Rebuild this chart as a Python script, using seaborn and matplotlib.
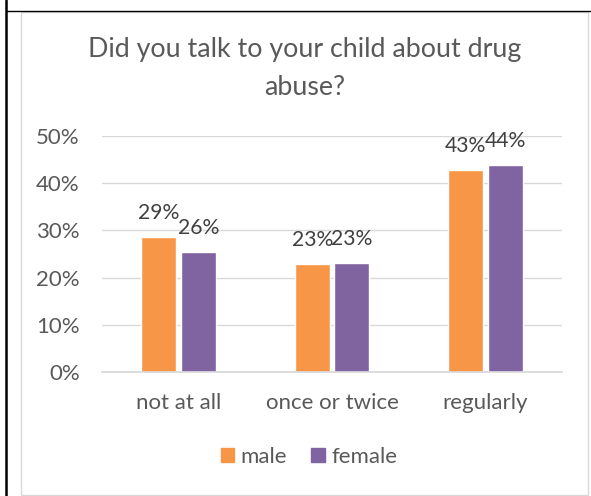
import seaborn as sns
import matplotlib.pyplot as plt
import pandas as pd
from matplotlib.lines import Line2D
from matplotlib.patches import Rectangle
from matplotlib.ticker import PercentFormatter

# chart data
responses = ['not at all', 'once or twice', 'regularly']
male = [0.285, 0.228, 0.428]
female = [0.255, 0.230, 0.439]
male_labels = ['29%', '23%', '43%']
female_labels = ['26%', '23%', '44%']

df = pd.DataFrame({
    'response': responses * 2,
    'value': male + female,
    'gender': ['male'] * 3 + ['female'] * 3,
})

sns.set_theme(style='white')
plt.rcParams['font.family'] = ['Lato', 'DejaVu Sans']

fs = 16
fig = plt.figure(figsize=(5.91, 4.96), dpi=100)
W, H = 591, 496

# outer frame lines (page border + chart border)
fig.add_artist(Line2D([6.3 / W, 6.3 / W], [0, 1], color='black', lw=1.8, transform=fig.transFigure))
fig.add_artist(Line2D([6.3 / W, 1], [1 - 10.7 / H, 1 - 10.7 / H], color='black', lw=1.0, transform=fig.transFigure))
fig.add_artist(Rectangle((20.5 / W, 1 - 494.5 / H), (587.5 - 20.5) / W, (494.5 - 12) / H,
                         fill=False, edgecolor='#D9D9D9', lw=1.0, transform=fig.transFigure))

ax = fig.add_axes([102 / W, 1 - 372 / H, 460 / W, 236 / H])

sns.barplot(data=df, x='response', y='value', hue='gender',
            palette={'male': '#F79646', 'female': '#8064A2'}, saturation=1,
            width=0.515, gap=0.114, ax=ax, legend=False)

ax.set_ylim(0, 0.5)
ax.set_xlim(-0.5, 2.5)
ax.set_yticks([0, 0.1, 0.2, 0.3, 0.4, 0.5])
ax.yaxis.set_major_formatter(PercentFormatter(1.0, decimals=0))
ax.grid(axis='y', color='#D9D9D9', lw=1.0)
ax.set_axisbelow(True)
for s in ['left', 'right', 'top']:
    ax.spines[s].set_visible(False)
ax.spines['bottom'].set_color('#D9D9D9')
ax.set_xlabel('')
ax.set_ylabel('')
ax.tick_params(axis='both', length=0, labelsize=fs, colors='#595959')
ax.tick_params(axis='y', pad=16)
ax.tick_params(axis='x', pad=15)

# data labels above bars
for cont, labels in zip(ax.containers, [male_labels, female_labels]):
    for bar, lab in zip(cont, labels):
        ax.annotate(lab, (bar.get_x() + bar.get_width() / 2, bar.get_height()),
                    xytext=(0, 13), textcoords='offset points',
                    ha='center', va='baseline', fontsize=15.2, color='#404040')

fig.text(305 / W, 1 - 57 / H, 'Did you talk to your child about drug',
         ha='center', va='baseline', fontsize=19.3, color='#595959')
fig.text(305 / W, 1 - 95 / H, 'abuse?',
         ha='center', va='baseline', fontsize=19.3, color='#595959')

handles = [Rectangle((0, 0), 1, 1, color='#F79646'), Rectangle((0, 0), 1, 1, color='#8064A2')]
fig.legend(handles, ['male', 'female'], loc='center', bbox_to_anchor=(309 / W, 1 - 457 / H),
           ncol=2, frameon=False, fontsize=fs, labelcolor='#595959',
           handlelength=0.6, handleheight=0.6, handletextpad=0.3, columnspacing=1.1)

fig.savefig('out.png', dpi=100)
